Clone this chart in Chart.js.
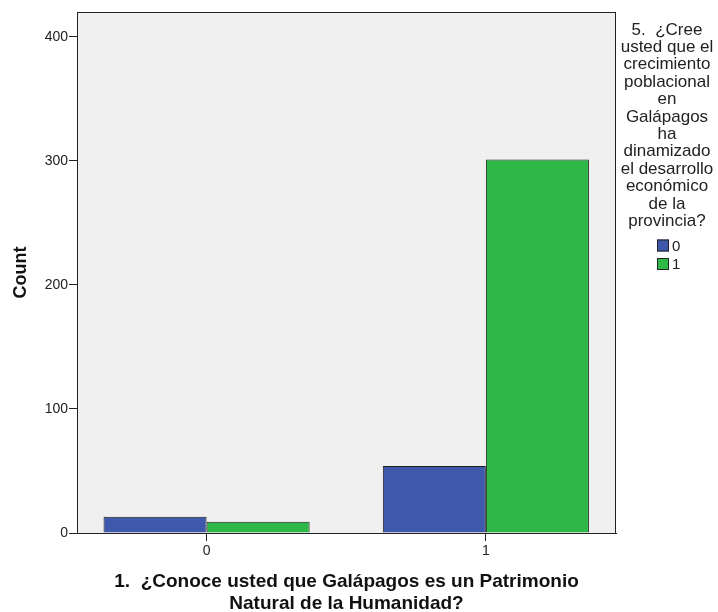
<!DOCTYPE html>
<html>
<head>
<meta charset="utf-8">
<script src="https://cdn.jsdelivr.net/npm/chart.js@4"></script>
<style>
  html, body { margin: 0; padding: 0; background: #fff; }
  #wrap { width: 718px; height: 612px; position: relative; }
</style>
</head>
<body>
<div id="wrap"><canvas id="grafico" width="718" height="612"></canvas></div>
<script>
// Datos
const categorias = ['0', '1'];
const grupos = ['0', '1'];
const conteoNo = [13, 54];
const conteoSi = [9, 301];
const ticksY = [0, 100, 200, 300, 400];
const tituloX = ['1.  ¿Conoce usted que Galápagos es un Patrimonio', 'Natural de la Humanidad?'];
const tituloLeyenda = ['5.  ¿Cree', 'usted que el', 'crecimiento', 'poblacional', 'en', 'Galápagos', 'ha',
    'dinamizado', 'el desarrollo', 'económico', 'de la', 'provincia?'];
const colores = ['#3e58ac', '#2eb848'];

const fuente = '"Liberation Sans", Arial, sans-serif';

// Fondo gris y marco del área de datos
const marcoPlugin = {
    id: 'marco',
    beforeDraw(chart) {
        const { ctx, chartArea: a } = chart;
        ctx.save();
        ctx.fillStyle = '#f0f0f0';
        ctx.fillRect(a.left, a.top, a.right - a.left, a.bottom - a.top);
        ctx.restore();
    },
    afterDraw(chart) {
        const { ctx, chartArea: a } = chart;
        ctx.save();
        ctx.strokeStyle = '#222';
        ctx.lineWidth = 1;
        ctx.strokeRect(a.left + 0.5, a.top + 0.5, a.right - a.left - 1, a.bottom - a.top);
        ctx.restore();
    }
};

// Leyenda a la derecha con título de varias líneas
const leyendaPlugin = {
    id: 'leyenda',
    afterDraw(chart) {
        const ctx = chart.ctx;
        const cx = 667;
        ctx.save();
        ctx.fillStyle = '#222';
        ctx.font = '17px ' + fuente;
        ctx.textAlign = 'center';
        ctx.textBaseline = 'middle';
        tituloLeyenda.forEach((linea, i) => ctx.fillText(linea, cx, 30 + i * 17.4));
        ctx.textAlign = 'left';
        chart.data.datasets.forEach((ds, i) => {
            const y = 245.5 + i * 18.5;
            ctx.fillStyle = ds.backgroundColor;
            ctx.fillRect(657, y - 6, 12, 12);
            ctx.strokeStyle = '#222';
            ctx.strokeRect(657.5, y - 5.5, 11, 11);
            ctx.fillStyle = '#222';
            ctx.font = '15px ' + fuente;
            ctx.fillText(ds.label, 672, y + 1);
        });
        ctx.restore();
    }
};

const ctx = document.getElementById('grafico').getContext('2d');
new Chart(ctx, {
    type: 'bar',
    data: {
        labels: categorias,
        datasets: [
            { label: grupos[0], data: conteoNo, backgroundColor: colores[0], borderColor: '#1c1c1c', borderWidth: 1 },
            { label: grupos[1], data: conteoSi, backgroundColor: colores[1], borderColor: '#1c1c1c', borderWidth: 1 }
        ]
    },
    options: {
        responsive: false,
        animation: false,
        layout: { padding: { top: 12, right: 102, left: 0, bottom: 0 } },
        categoryPercentage: 0.738,
        barPercentage: 1,
        plugins: {
            legend: { display: false },
            tooltip: { enabled: false }
        },
        scales: {
            x: {
                afterFit(scale) { scale.height = 79; },
                // márgenes laterales como en el original
                afterBuildTicks(scale) {
                    scale._startValue = -0.464;
                    scale._valueRange = 1.93;
                },
                grid: { drawOnChartArea: false, offset: false, tickLength: 8, color: '#222' },
                border: { display: true, color: '#222' },
                ticks: { color: '#222', font: { family: fuente, size: 14 }, padding: 2 },
                title: {
                    display: true,
                    text: tituloX,
                    color: '#111',
                    font: { family: fuente, size: 19, weight: 'bold', lineHeight: 1.18 },
                    padding: { top: 0, bottom: -3 }
                }
            },
            y: {
                min: 0,
                max: 420,
                afterFit(scale) { scale.width = 77; },
                afterBuildTicks(scale) {
                    scale.ticks = ticksY.map(v => ({ value: v }));
                },
                grid: { drawOnChartArea: false, tickLength: 8, color: '#222' },
                border: { display: true, color: '#222' },
                ticks: { color: '#222', font: { family: fuente, size: 14 }, padding: 1 },
                title: {
                    display: true,
                    text: 'Count',
                    color: '#111',
                    font: { family: fuente, size: 18, weight: 'bold' },
                    padding: { top: 10, bottom: 0 }
                }
            }
        }
    },
    plugins: [marcoPlugin, leyendaPlugin]
});
</script>
</body>
</html>
